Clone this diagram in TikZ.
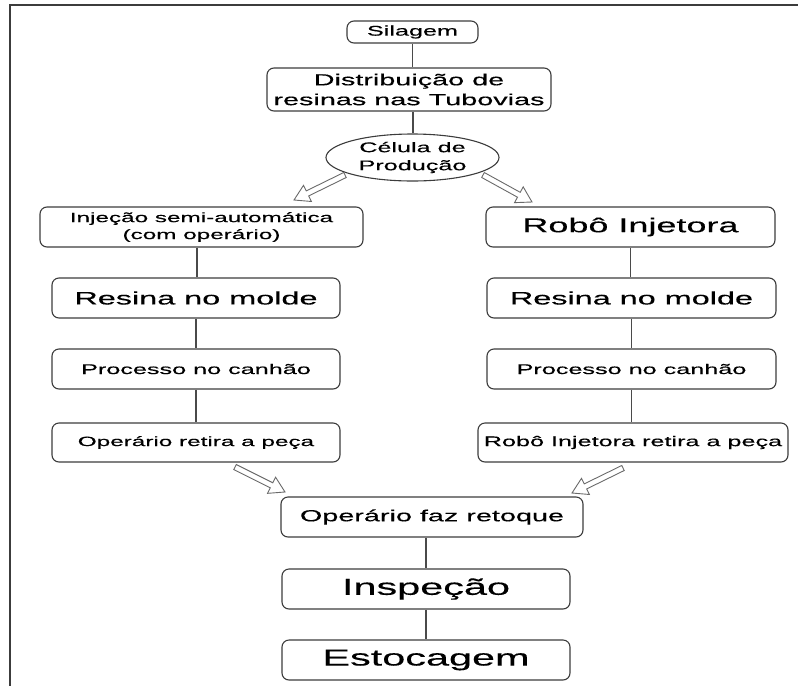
\documentclass[tikz,border=0pt]{standalone}
\usepackage{fontspec}
\setmainfont{Liberation Sans}[FakeStretch=1.8,FakeBold=0.3]
\usetikzlibrary{calc,shapes.geometric}
\definecolor{edge}{HTML}{3C3C3C}
\definecolor{conn}{HTML}{4A4A4A}
\definecolor{arrowc}{HTML}{6A6A6A}
\newcommand\fs[1]{\fontsize{#1pt}{\dimexpr #1pt*118/100\relax}\selectfont}
\newcommand\hollowarr[2]{%
  \coordinate (hb) at ($(#2)!15pt!(#1)$);
  \draw[harrowst] ($(#1)!2.8pt!90:(#2)$) -- ($(hb)!2.8pt!90:(#2)$) -- ($(hb)!9pt!90:(#2)$) -- (#2)
    -- ($(hb)!9pt!-90:(#2)$) -- ($(hb)!2.8pt!-90:(#2)$) -- ($(#1)!2.8pt!-90:(#2)$) -- cycle;}
\begin{document}
\begin{tikzpicture}[x=1pt,y=1pt,
  box/.style={draw=edge,line width=1.1pt,rounded corners=7pt,align=center,inner sep=0pt,fill=white},
  conline/.style={draw=conn,line width=1.1pt},
  harrowst/.style={draw=arrowc,line width=0.9pt,line join=miter,fill=white},
  frame/.style={draw=edge,line width=1.6pt}]
\useasboundingbox (0,0) rectangle (798,-686);
\draw[frame] (9,-5) -- (798,-5);
\draw[frame] (10,-5) -- (10,-686);

\node[box,minimum width=131,minimum height=22,font=\fs{14}] (sil) at (412.5,-32) {Silagem};
\node[box,minimum width=284,minimum height=43,font=\fs{16}] (dist) at (409,-89.5) {Distribuição de\\[1pt]resinas nas Tubovias};
\node[ellipse,draw=edge,line width=1.1pt,minimum width=173,minimum height=47,inner sep=0pt,align=center,fill=white,font=\fs{14}] (cel) at (412.5,-157.5) {Célula de\\[1.5pt]Produção};

\node[box,minimum width=323,minimum height=40,font=\fs{13.5}] (l1) at (201.5,-227) {Injeção semi-automática\\[1pt](com operário)};
\node[box,minimum width=289,minimum height=40,font=\fs{20}] (r1) at (630.5,-227) {Robô Injetora};

\node[box,minimum width=288,minimum height=40,font=\fs{18}] (lres) at (196,-298) {Resina no molde};
\node[box,minimum width=289,minimum height=40,font=\fs{18}] (rres) at (631.5,-298) {Resina no molde};

\node[box,minimum width=288,minimum height=40,font=\fs{14}] (lproc) at (196,-369) {Processo no canhão};
\node[box,minimum width=289,minimum height=40,font=\fs{14}] (rproc) at (631.5,-369) {Processo no canhão};

\node[box,minimum width=288,minimum height=39,font=\fs{13.5}] (lop) at (196,-442.5) {Operário retira a peça};
\node[box,minimum width=310,minimum height=39,font=\fs{14}] (rop) at (633,-442.5) {Robô Injetora retira a peça};

\node[box,minimum width=302,minimum height=40,font=\fs{16}] (ret) at (432,-517) {Operário faz retoque};
\node[box,minimum width=288,minimum height=40,font=\fs{23}] (insp) at (426,-589) {Inspeção};
\node[box,minimum width=288,minimum height=40,font=\fs{23}] (est) at (426,-660) {Estocagem};

% vertical connectors
\draw[conline] (sil.south) -- (sil.south |- dist.north);
\draw[conline] ([xshift=4pt]dist.south) -- ([xshift=4pt]dist.south |- cel.north);
\draw[conline] ([xshift=-4.5pt]l1.south) -- ([xshift=-4.5pt]l1.south |- lres.north);
\draw[conline] (r1.south) -- (r1.south |- rres.north);
\draw[conline] (lres.south) -- (lproc.north);
\draw[conline] (rres.south) -- (rproc.north);
\draw[conline] (lproc.south) -- (lproc.south |- lop.north);
\draw[conline] (rproc.south) -- (rproc.south |- rop.north);
\draw[conline] (insp.north |- ret.south) -- (insp.north);
\draw[conline] (insp.south) -- (est.north);

% hollow block arrows
\coordinate (a1t) at (345,-175); \coordinate (a1h) at (294,-200);
\coordinate (a2t) at (483,-175); \coordinate (a2h) at (532,-202);
\coordinate (a3t) at (235,-467); \coordinate (a3h) at (285,-492);
\coordinate (a4t) at (623,-468); \coordinate (a4h) at (572,-493);
\hollowarr{a1t}{a1h}
\hollowarr{a2t}{a2h}
\hollowarr{a3t}{a3h}
\hollowarr{a4t}{a4h}
\end{tikzpicture}
\end{document}
